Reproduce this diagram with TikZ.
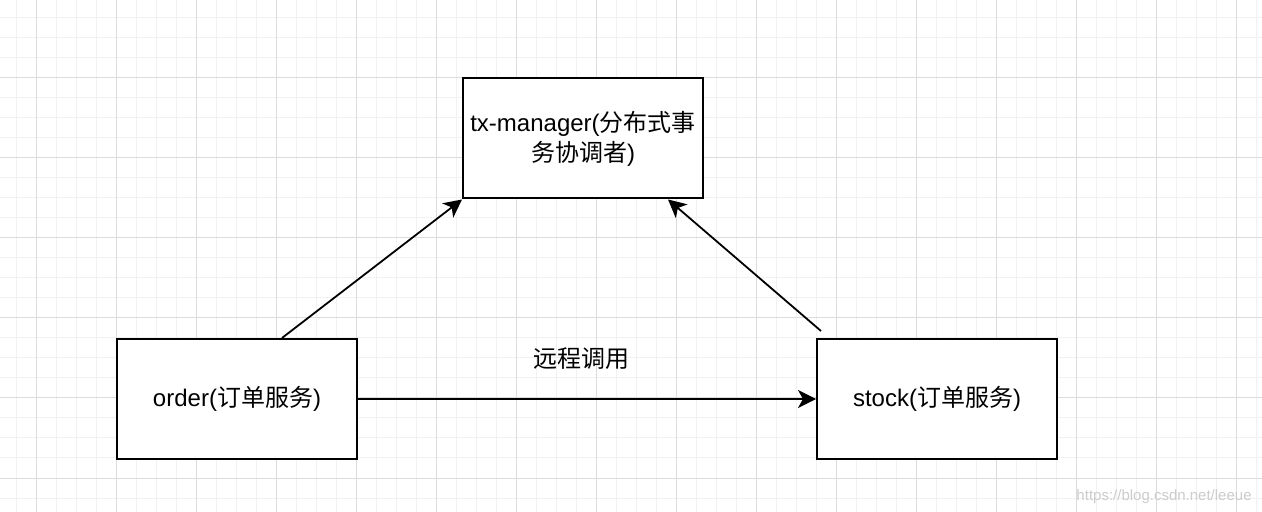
\documentclass[tikz,border=0pt]{standalone}
\usepackage{fontspec}
\setmainfont{Liberation Sans}
\newfontfamily\cjk{Noto Sans CJK SC}
\usetikzlibrary{arrows.meta}

\definecolor{minorgrid}{HTML}{F1F1F1}
\definecolor{majorgrid}{HTML}{DCDCDC}

\begin{document}
\begin{tikzpicture}[
  x=0.5pt, y=-0.5pt,
  box/.style={draw, line width=1pt, fill=white, minimum width=120pt,
    minimum height=60pt, inner sep=2pt, align=center,
    font=\fontsize{12}{15}\selectfont},
  call/.style={line width=0.9pt, -{Stealth[length=9pt,width=9pt,inset=2.5pt]}},
]
\useasboundingbox (0,0) rectangle (1262,512);
\fill[white] (0,0) rectangle (1262,512);

\foreach \gx in {16,36,...,1256}
  \draw[minorgrid, line width=0.5pt] (\gx,0) -- (\gx,512);
\foreach \gy in {18,38,...,498}
  \draw[minorgrid, line width=0.5pt] (0,\gy) -- (1262,\gy);
\foreach \gx in {36,116,...,1236}
  \draw[majorgrid, line width=0.5pt] (\gx,0) -- (\gx,512);
\foreach \gy in {78,158,...,478}
  \draw[majorgrid, line width=0.5pt] (0,\gy) -- (1262,\gy);

\node[box, text depth=2pt] (txmanager) at (583,138.5) {tx-manager({\cjk 分布式事}\\{\cjk 务协调者})};
\node[box] (order) at (237,399) {order({\cjk 订单服务})};
\node[box] (stock) at (937,399) {stock({\cjk 订单服务})};

\draw[call] ([shift={(45,0)}]order.north) -- (txmanager.south west);
\draw[call] ([shift={(5,-7)}]stock.north west) -- ([shift={(-36,0)}]txmanager.south east);
\draw[call] (order.east) -- node[xshift=-3pt, yshift=20pt, font=\fontsize{12}{14}\selectfont] (rpc) {\cjk 远程调用} (stock.west);

\node[anchor=base east, text=gray!40, font=\fontsize{7.5}{9}\selectfont, inner sep=0pt]
  (mark) at (1252,500) {https://blog.csdn.net/leeue};

\end{tikzpicture}
\end{document}
